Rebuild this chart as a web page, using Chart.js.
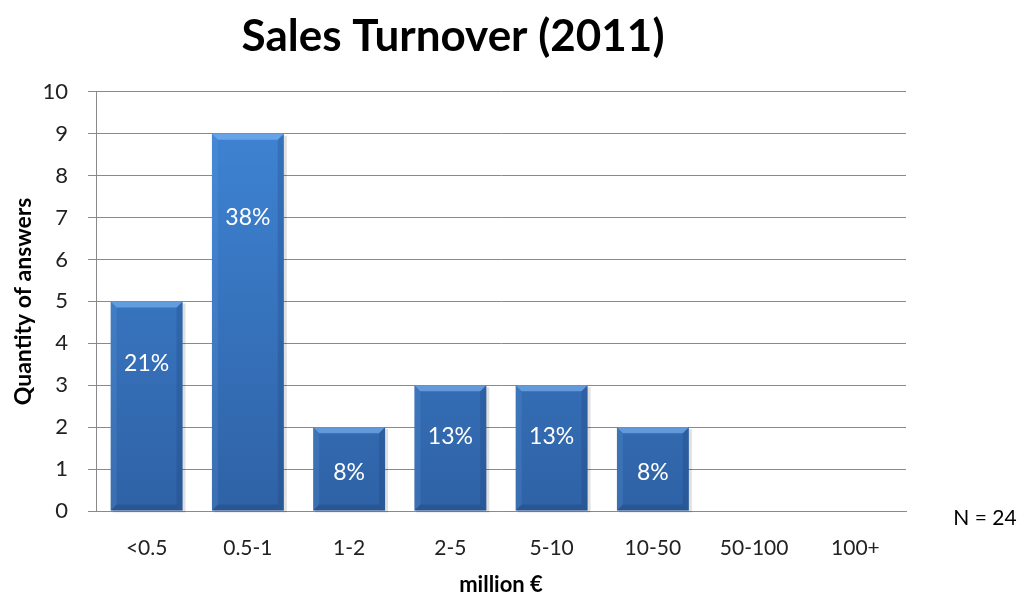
<!DOCTYPE html>
<html>
<head>
<meta charset="utf-8">
<title>Sales Turnover (2011)</title>
<script src="https://cdn.jsdelivr.net/npm/chart.js@4/dist/chart.umd.min.js"></script>
<style>
  html, body { margin: 0; padding: 0; background: #fff; }
  #wrap { width: 1030px; height: 596px; }
</style>
</head>
<body>
<div id="wrap"><canvas id="graphique-ca"></canvas></div>
<script>
// Tranches de chiffre d'affaires et nombre de réponses
const categories = ["<0.5", "0.5-1", "1-2", "2-5", "5-10", "10-50", "50-100", "100+"];
const reponses = [5, 9, 2, 3, 3, 2, 0, 0];
const graduations = [0, 1, 2, 3, 4, 5, 6, 7, 8, 9, 10];
const totalReponses = 24;

const police = "Lato, 'Open Sans', sans-serif";

// Pourcentage affiché sur chaque barre
function pourcentage(v) {
    return Math.round(v / totalReponses * 100) + "%";
}

// Relief des barres (biseau haut, bords, ombre)
const reliefBarres = {
    id: "reliefBarres",
    beforeDatasetsDraw(chart) {
        const ctx = chart.ctx;
        chart.getDatasetMeta(0).data.forEach((bar, i) => {
            if (!reponses[i]) return;
            const l = bar.x - bar.width / 2;
            ctx.save();
            ctx.fillStyle = "rgba(0,0,0,0.12)";
            ctx.fillRect(l + 2, bar.y + 2, bar.width + 1, bar.base - bar.y);
            ctx.restore();
        });
    },
    afterDatasetsDraw(chart) {
        const ctx = chart.ctx;
        const meta = chart.getDatasetMeta(0);
        meta.data.forEach((bar, i) => {
            if (!reponses[i]) return;
            const l = bar.x - bar.width / 2, r = bar.x + bar.width / 2;
            const t = bar.y, b = bar.base, e = 6;
            ctx.save();
            // biseau du haut
            ctx.fillStyle = "rgba(130,185,245,0.6)";
            ctx.beginPath();
            ctx.moveTo(l, t); ctx.lineTo(r, t); ctx.lineTo(r - e, t + e); ctx.lineTo(l + e, t + e);
            ctx.closePath(); ctx.fill();
            // bord gauche
            ctx.fillStyle = "rgba(110,165,230,0.18)";
            ctx.beginPath();
            ctx.moveTo(l, t); ctx.lineTo(l + e, t + e); ctx.lineTo(l + e, b - e); ctx.lineTo(l, b);
            ctx.closePath(); ctx.fill();
            // bord droit
            ctx.fillStyle = "rgba(20,50,100,0.2)";
            ctx.beginPath();
            ctx.moveTo(r, t); ctx.lineTo(r - e, t + e); ctx.lineTo(r - e, b - e); ctx.lineTo(r, b);
            ctx.closePath(); ctx.fill();
            // bord bas
            ctx.fillStyle = "rgba(20,45,90,0.22)";
            ctx.beginPath();
            ctx.moveTo(l, b); ctx.lineTo(l + e, b - e); ctx.lineTo(r - e, b - e); ctx.lineTo(r, b);
            ctx.closePath(); ctx.fill();
            ctx.restore();

            // étiquette de pourcentage
            const yScale = chart.scales.y;
            const yLabel = yScale.getPixelForValue(0.87 * reponses[i] - 0.83);
            ctx.save();
            ctx.fillStyle = "#ffffff";
            ctx.font = "23px " + police;
            ctx.textAlign = "center";
            ctx.textBaseline = "middle";
            ctx.fillText(pourcentage(reponses[i]), bar.x, yLabel);
            ctx.restore();
        });

        // N = 24
        ctx.save();
        ctx.fillStyle = "#000";
        ctx.font = "21px " + police;
        ctx.textAlign = "center";
        ctx.textBaseline = "middle";
        ctx.fillText("N = " + totalReponses, 985, 518);
        ctx.restore();
    }
};

const ctxCanvas = document.querySelector("#graphique-ca").getContext("2d");
const degrade = ctxCanvas.createLinearGradient(0, 92, 0, 511);
degrade.addColorStop(0, "#3f86d6");
degrade.addColorStop(1, "#2f62a6");

new Chart(ctxCanvas, {
    type: "bar",
    data: {
        labels: categories,
        datasets: [{
            label: "Quantity of answers",
            data: reponses,
            backgroundColor: degrade,
            borderWidth: 0,
            barPercentage: 0.71,
            categoryPercentage: 1.0
        }]
    },
    options: {
        responsive: true,
        maintainAspectRatio: false,
        animation: false,
        layout: { padding: { left: 0, right: 124, top: 0, bottom: 0 } },
        plugins: {
            legend: { display: false },
            tooltip: { enabled: false },
            title: {
                display: true,
                text: "Sales Turnover (2011)",
                color: "#000",
                font: { family: police, size: 44, weight: "bold" },
                padding: { top: 10, bottom: 29 }
            }
        },
        scales: {
            x: {
                grid: { display: false },
                border: { display: true, color: "#8a8a8a" },
                ticks: {
                    color: "#222",
                    font: { family: police, size: 21 },
                    padding: 17,
                    maxRotation: 0
                },
                title: {
                    display: true,
                    text: "million €",
                    color: "#000",
                    font: { family: police, size: 22, weight: "bold", lineHeight: 1 },
                    padding: { top: 8, bottom: 0 }
                },
                afterFit(scale) { scale.height = 85; }
            },
            y: {
                min: 0,
                max: 10,
                afterBuildTicks(scale) { scale.ticks = graduations.map(v => ({ value: v })); },
                grid: { color: "#8a8a8a", tickLength: 8, drawTicks: true },
                border: { display: true, color: "#8a8a8a" },
                ticks: {
                    color: "#222",
                    font: { family: police, size: 22 },
                    padding: 20
                },
                title: {
                    display: true,
                    text: "Quantity of answers",
                    color: "#000",
                    font: { family: police, size: 23, weight: "bold" },
                    padding: { top: 10, bottom: 0 }
                },
                afterFit(scale) { scale.width = 96; }
            }
        }
    },
    plugins: [reliefBarres]
});
</script>
</body>
</html>
